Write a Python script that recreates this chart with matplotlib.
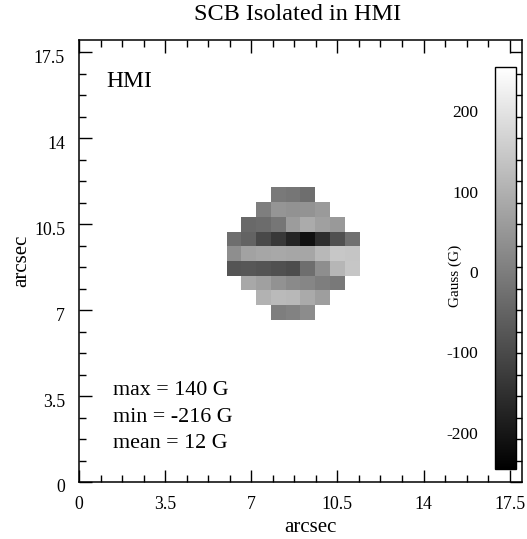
import numpy as np
import matplotlib
matplotlib.use("Agg")
import matplotlib.pyplot as plt
from matplotlib.ticker import MultipleLocator, FixedLocator
from matplotlib.transforms import ScaledTranslation

plt.rcParams['font.family'] = ['Liberation Serif', 'DejaVu Serif']

# 30x30 field of 0.6 arcsec pixels, only the isolated SCB is non-empty
pix_size = 0.6
n_pix = 30
# rows from the bottom of the blob (row 11) to its top (row 19)
row_index = [11, 12, 13, 14, 15, 16, 17, 18, 19]
row_first_col = [13, 12, 11, 10, 10, 10, 11, 12, 13]
row_values = [
    [-3, 5, 25],
    [99, 115, 111, 83, 60],
    [79, 64, 36, 21, 13, -3, -11],
    [-83, -79, -85, -93, -101, -34, 28, 107, 138],
    [28, 68, 76, 79, 76, 76, 111, 140, 136],
    [-34, -56, -105, -140, -179, -216, -160, -93, -30],
    [-42, -38, -19, 56, 85, 64, 50],
    [-3, 42, 36, 40, 52],
    [-11, -19, -34],
]
stats_text = ["max = 140 G", "min = -216 G", "mean = 12 G"]
axis_ticks = [0, 3.5, 7, 10.5, 14, 17.5]
axis_ticklabels = ["0", "3.5", "7", "10.5", "14", "17.5"]
cbar_ticks = [-200, -100, 0, 100, 200]
vmin, vmax = -250, 250

field = np.full((n_pix, n_pix), np.nan)
for r, c0, vals in zip(row_index, row_first_col, row_values):
    field[r, c0:c0 + len(vals)] = vals

W, H = 527, 539
fig = plt.figure(figsize=(W / 100, H / 100), dpi=100)
ax = fig.add_axes([79 / W, (H - 482) / H, 443 / W, 442 / H])

cmap = plt.get_cmap('gray').copy()
cmap.set_bad('white')
im = ax.imshow(field, origin='lower', cmap=cmap, vmin=vmin, vmax=vmax,
               extent=(0, n_pix * pix_size, 0, n_pix * pix_size),
               interpolation='nearest', aspect='auto')
ax.set_xlim(0, 18)
ax.set_ylim(0, 18)

ax.xaxis.set_major_locator(FixedLocator(axis_ticks))
ax.yaxis.set_major_locator(FixedLocator(axis_ticks))
ax.set_xticklabels(axis_ticklabels)
ax.set_yticklabels(axis_ticklabels)
ax.xaxis.set_minor_locator(MultipleLocator(0.875))
ax.yaxis.set_minor_locator(MultipleLocator(0.875))
ax.tick_params(which='both', direction='in', top=True, right=True,
               width=1, labelsize=12.8, colors='black')
ax.tick_params(which='major', length=9)
ax.tick_params(which='minor', length=5)
ax.tick_params(axis='x', pad=10)
ax.tick_params(axis='y', pad=10)
for s in ax.spines.values():
    s.set_linewidth(1.1)

ax.set_xlabel('arcsec', fontsize=15)
ax.xaxis.set_label_coords((310 - 79) / 443, -(528 - 482) / 442)
ax.xaxis.label.set_va('center')
ax.set_ylabel('arcsec', fontsize=15)
ax.yaxis.set_label_coords(-(79 - 22) / 443, 0.5)
ax.yaxis.label.set_va('center')

ax.text(1.1, 16.1, 'HMI', fontsize=17, va='baseline', ha='left')
for i, t in enumerate(stats_text):
    ax.text(1.38, 3.53 - i * 1.08, t, fontsize=15.8, va='baseline', ha='left')

fig.text(297.5 / W, 1 - 20 / H, 'SCB Isolated in HMI', fontsize=17.5,
         ha='center', va='baseline')

# colorbar drawn inside the plot area
cax = fig.add_axes([495 / W, (H - 469) / H, 21 / W, 402 / H])
cb = fig.colorbar(im, cax=cax, ticks=cbar_ticks)
cb.outline.set_linewidth(1)
cax.yaxis.set_ticks_position('left')
cax.yaxis.set_label_position('left')
cax.tick_params(length=0, labelsize=12.5, pad=12)
cax.set_yticklabels([str(t) for t in cbar_ticks])
cb.set_label('Gauss (G)', fontsize=11)
cax.yaxis.set_label_coords(-(495 - 455) / 21, (469 - 276) / 402)
cax.yaxis.label.set_va('center')

# the labels sit a little below their tick positions in the original
shift = ScaledTranslation(0, -4 / 100, fig.dpi_scale_trans)
for lab in ax.get_yticklabels() + cax.get_yticklabels():
    lab.set_transform(lab.get_transform() + shift)

fig.savefig('out.png', dpi=100)
